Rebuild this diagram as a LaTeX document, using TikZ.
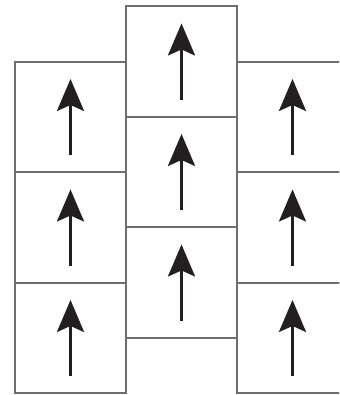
\documentclass[tikz,border=0pt]{standalone}
\usetikzlibrary{arrows.meta}
\definecolor{boxgray}{HTML}{6E6E6E}
\definecolor{arrowblack}{HTML}{231F20}
\tikzset{
  cell/.style={draw=boxgray, line width=1.6pt, rectangle, inner sep=0pt,
               minimum width=111pt, minimum height=110.5pt},
  spin/.style={draw=arrowblack, line width=3pt,
               -{Stealth[length=32pt, width=27pt, inset=6pt, fill=arrowblack]}}
}
\begin{document}
\begin{tikzpicture}[x=1pt, y=-1pt]
\useasboundingbox (0,0) rectangle (339,395);
\begin{scope}
\clip (0,0) rectangle (339,395);
% left column
\node[cell] (l1) at (70.5,117) {};
\node[cell] (l2) at (70.5,227.5) {};
\node[cell] (l3) at (70.5,338) {};
% middle column
\node[cell] (m1) at (181.5,61.5) {};
\node[cell] (m2) at (181.5,172) {};
\node[cell] (m3) at (181.5,282.5) {};
% right column
\node[cell] (r1) at (292.5,117) {};
\node[cell] (r2) at (292.5,227.5) {};
\node[cell] (r3) at (292.5,338) {};
\foreach \c in {l1,l2,l3,m1,m2,m3,r1,r2,r3}{
  \draw[spin] ([yshift=18pt]\c.south) -- ([yshift=-18pt]\c.north);
}
\end{scope}
\end{tikzpicture}
\end{document}
